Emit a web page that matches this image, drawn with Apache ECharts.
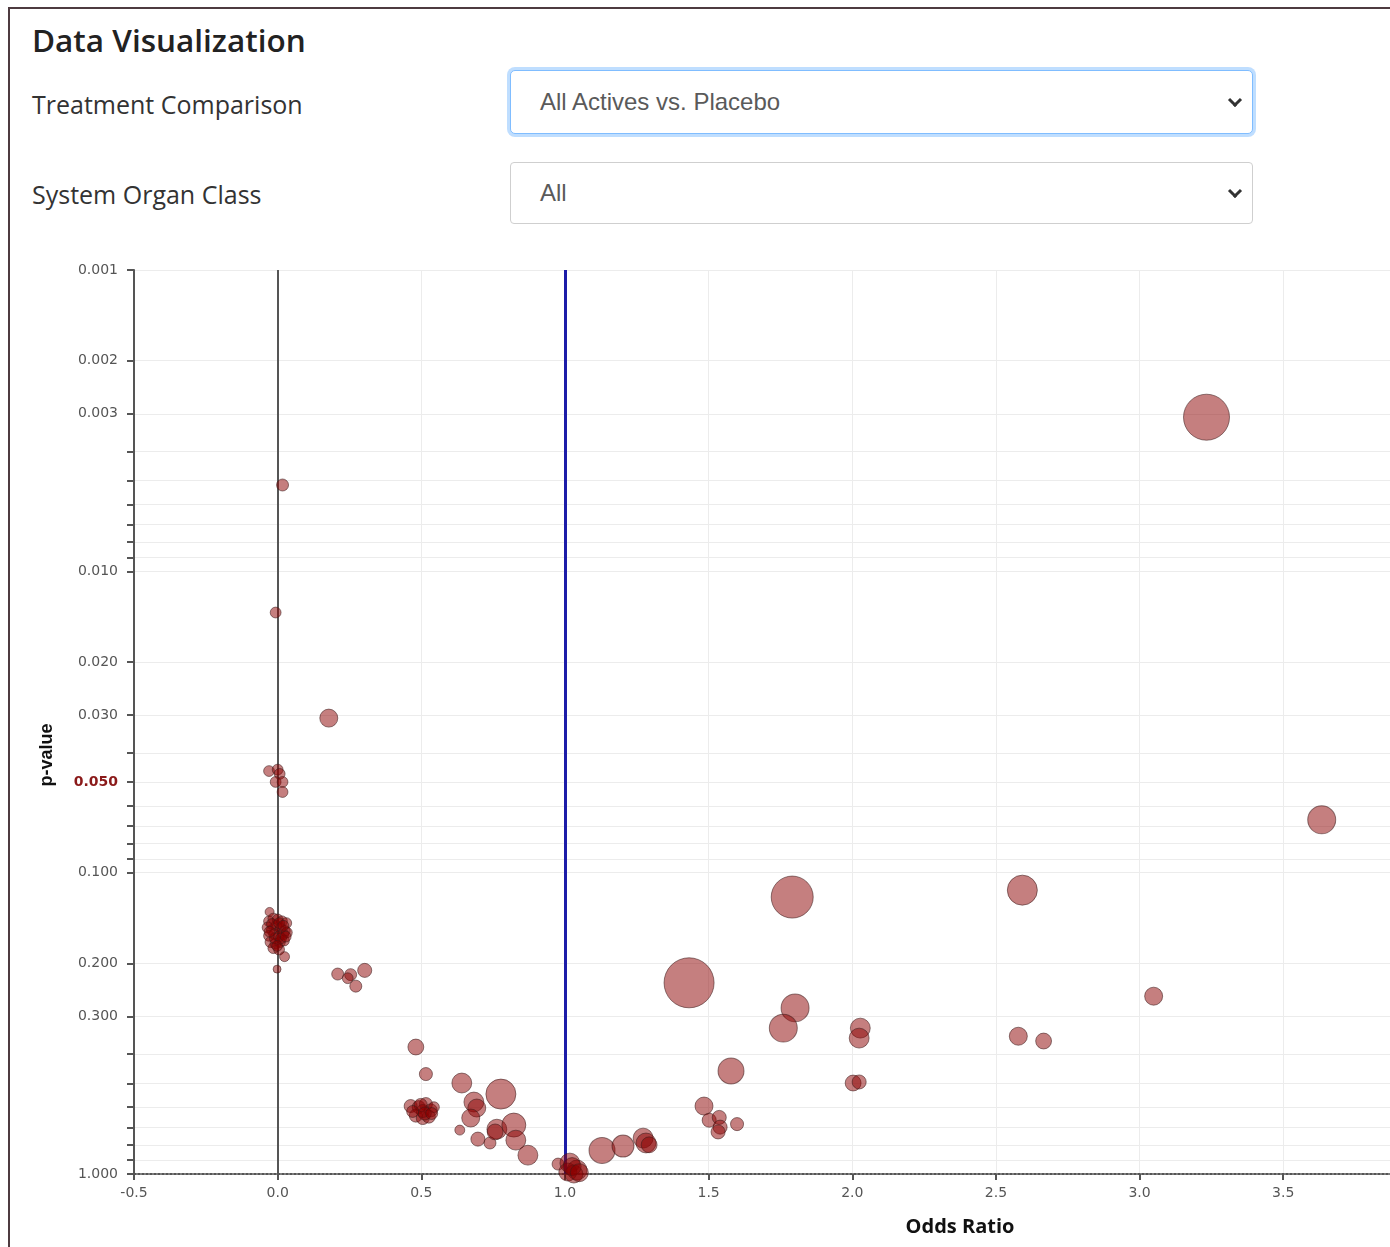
<!DOCTYPE html>
<html>
<head>
<meta charset="utf-8">
<title>Data Visualization</title>
<script src="https://cdn.jsdelivr.net/npm/echarts@6/dist/echarts.min.js"></script>
<style>
  html, body { margin: 0; padding: 0; background: #fff; overflow: hidden; width: 1390px; height: 1247px; }
  #frame { position: absolute; left: 8px; top: 7px; width: 2000px; height: 2000px;
           border-top: 2px solid #4e3b40; border-left: 2px solid #4e3b40; box-sizing: border-box; }
  .title { position: absolute; left: 32px; top: 20px; font-family: "Open Sans", sans-serif;
           font-weight: 600; font-size: 31.5px; line-height: 40px; color: #222; white-space: nowrap; }
  .lbl { position: absolute; left: 32px; font-family: "Open Sans", sans-serif; font-size: 25px;
         line-height: 32px; color: #333; white-space: nowrap; }
  .sel { position: absolute; left: 510px; width: 743px; box-sizing: border-box; background: #fff;
         font-family: "Liberation Sans", Arial, sans-serif; font-size: 24px; color: #5a5a5a;
         padding-left: 29px; white-space: nowrap; }
  .sel.focus { top: 70px; height: 64px; line-height: 62px; border: 1px solid #80bdff;
               border-radius: 5px; box-shadow: 0 0 0 3px rgba(0, 123, 255, 0.25); }
  .sel.plain { top: 162px; height: 62px; line-height: 60px; border: 1px solid #cfcfcf; border-radius: 4px; }
  .chev { position: absolute; right: 12px; top: 50%; width: 7px; height: 7px; margin-top: -7px;
          border-right: 3px solid #333; border-bottom: 3px solid #333; transform: rotate(45deg); }
  #chart { position: absolute; left: 0; top: 240px; width: 1860px; height: 1007px; }
</style>
</head>
<body>
<div id="frame"></div>
<div id="chart"></div>
<div class="title">Data Visualization</div>
<div class="lbl" style="top:88px">Treatment Comparison</div>
<div class="sel focus">All Actives vs. Placebo<span class="chev"></span></div>
<div class="lbl" style="top:178px">System Organ Class</div>
<div class="sel plain">All<span class="chev"></span></div>

<script>
// Adverse-event terms: odds ratio (active vs. placebo), p-value and number of events
const oddsRatio = [
  0.017, -0.007, -0.030, 0.000, 0.007, -0.007, 0.017, 0.017,
  -0.028, -0.030, -0.015, 0.000, 0.015, 0.030, -0.035, -0.020, -0.005, 0.010, 0.025,
  -0.030, -0.012, 0.004, 0.020, 0.032, -0.025, -0.008, 0.008, 0.022, -0.015, 0.005,
  -0.020, 0.005, 0.020, -0.010, 0.012, -0.028, 0.028, -0.002,
  0.024, -0.002,
  0.209, 0.254, 0.303, 0.244, 0.272, 0.178,
  0.481, 0.516, 0.463, 0.491, 0.516, 0.533, 0.481, 0.505, 0.526, 0.544, 0.505,
  0.498, 0.512, 0.470, 0.536,
  0.641, 0.777, 0.683, 0.693, 0.672, 0.634, 0.697, 0.739, 0.763, 0.757, 0.822, 0.829, 0.871,
  0.976, 1.017, 1.042, 1.010, 1.031, 1.025, 1.050,
  1.129, 1.202, 1.272, 1.282, 1.293,
  1.432, 1.791, 1.801, 1.760, 2.028, 2.024, 1.578, 2.003, 2.024,
  1.484, 1.502, 1.537, 1.540, 1.533, 1.599,
  3.233, 3.634, 2.592, 3.049, 2.578, 2.666
];
const pValue = [
  0.00517, 0.0137, 0.046, 0.0455, 0.047, 0.050, 0.050, 0.054,
  0.135, 0.145, 0.142, 0.143, 0.145, 0.147, 0.152, 0.155, 0.150, 0.153, 0.156,
  0.162, 0.160, 0.163, 0.160, 0.158, 0.170, 0.172, 0.170, 0.168, 0.178, 0.180,
  0.148, 0.147, 0.150, 0.165, 0.165, 0.157, 0.163, 0.175,
  0.190, 0.209,
  0.217, 0.218, 0.211, 0.224, 0.238, 0.0307,
  0.379, 0.466, 0.595, 0.600, 0.586, 0.615, 0.640, 0.652, 0.645, 0.600, 0.618,
  0.590, 0.630, 0.620, 0.630,
  0.499, 0.543, 0.577, 0.604, 0.652, 0.715, 0.766, 0.789, 0.710, 0.725, 0.688, 0.772, 0.866,
  0.927, 0.920, 0.970, 0.985, 1.000, 0.945, 0.990,
  0.835, 0.808, 0.760, 0.789, 0.800,
  0.232, 0.1205, 0.281, 0.328, 0.328, 0.354, 0.455, 0.499, 0.495,
  0.595, 0.663, 0.649, 0.699, 0.725, 0.683,
  0.00308, 0.0668, 0.1143, 0.257, 0.349, 0.362
];
const eventCount = [
  16, 13, 13, 13, 13, 13, 13, 13,
  9, 13, 13, 13, 13, 13, 13, 13, 13, 13, 13,
  13, 13, 13, 13, 13, 13, 13, 13, 13, 13, 13,
  13, 13, 13, 13, 13, 13, 13, 13,
  11, 7,
  16, 16, 22, 13, 16, 36,
  28, 19, 19, 19, 19, 19, 19, 19, 19, 13, 19,
  19, 19, 16, 16,
  44, 100, 44, 36, 36, 11, 22, 16, 44, 28, 64, 44, 44,
  16, 44, 44, 36, 36, 36, 36,
  75, 54, 44, 44, 28,
  278, 196, 87, 87, 44, 44, 75, 28, 22,
  36, 22, 22, 22, 22, 19,
  235, 87, 100, 36, 36, 28
];

// p-value axis ticks (log scale, 1-9 per decade) and the labelled subset
const pTicks = [
  0.001, 0.002, 0.003, 0.004, 0.005, 0.006, 0.007, 0.008, 0.009,
  0.01, 0.02, 0.03, 0.04, 0.05, 0.06, 0.07, 0.08, 0.09,
  0.1, 0.2, 0.3, 0.4, 0.5, 0.6, 0.7, 0.8, 0.9, 1
];
const pLabels = [0.001, 0.002, 0.003, 0.010, 0.020, 0.030, 0.050, 0.100, 0.200, 0.300, 1.000];
const significance = 0.05;
const oddsRatioTicks = { min: -0.5, max: 5.25, interval: 0.5 };

const points = oddsRatio.map((x, i) => [x, Math.log10(pValue[i]), eventCount[i]]);

const chart = echarts.init(document.getElementById('chart'), null, { renderer: 'canvas' });

const axisFont = 'DejaVu Sans, Verdana, sans-serif';

chart.setOption({
  animation: false,
  backgroundColor: 'transparent',
  grid: { left: 134, top: 30, right: 74, bottom: 73 },
  xAxis: {
    type: 'value',
    min: oddsRatioTicks.min,
    max: oddsRatioTicks.max,
    interval: oddsRatioTicks.interval,
    name: 'Odds Ratio',
    nameLocation: 'middle',
    nameGap: 43,
    nameTextStyle: { fontFamily: 'Open Sans, sans-serif', fontWeight: 'bold', fontSize: 20, color: '#111' },
    axisLine: { onZero: false, lineStyle: { color: '#555', width: 2, type: [2, 2] } },
    axisTick: { show: true, length: 6, lineStyle: { color: '#555', width: 2 } },
    axisLabel: { formatter: v => v.toFixed(1), color: '#555', fontSize: 14, fontFamily: axisFont, margin: 12 },
    splitLine: { show: true, lineStyle: { color: '#ececec', width: 1 } }
  },
  yAxis: {
    type: 'value',
    min: -3,
    max: 0,
    inverse: true,
    name: 'p-value',
    nameLocation: 'middle',
    nameRotate: 90,
    nameGap: 78,
    nameTextStyle: { fontFamily: 'Liberation Sans, Arial, sans-serif', fontWeight: 'bold', fontSize: 18,
                     color: '#111', padding: [0, 66, 0, 0] },
    axisLine: { show: true, onZero: false, lineStyle: { color: '#555', width: 2 } },
    axisTick: { show: true, length: 7, customValues: pTicks.map(Math.log10),
                lineStyle: { color: '#555', width: 2 } },
    axisLabel: {
      customValues: pLabels.map(Math.log10),
      color: '#555', fontSize: 14, fontFamily: axisFont, margin: 16,
      formatter: v => {
        const p = Math.pow(10, v);
        const s = p.toFixed(3);
        return Math.abs(p - significance) < 1e-9 ? '{sig|' + s + '}' : s;
      },
      rich: { sig: { color: '#8b1a1a', fontWeight: 'bold', fontSize: 14, fontFamily: axisFont } }
    },
    splitLine: { show: true, lineStyle: { color: '#ececec', width: 1 } }
  },
  series: [{
    type: 'scatter',
    data: points,
    symbolSize: d => 3 * Math.sqrt(d[2]),
    itemStyle: {
      color: 'rgba(139, 0, 0, 0.5)',
      borderColor: 'rgba(60, 25, 25, 0.55)',
      borderWidth: 1,
      opacity: 1
    },
    emphasis: { disabled: true },
    markLine: {
      silent: true,
      z: 1,
      symbol: ['none', 'none'],
      label: { show: false },
      data: [
        { xAxis: 0, lineStyle: { color: '#555', width: 2, type: 'solid' } },
        { xAxis: 1, lineStyle: { color: '#1c1ca8', width: 3, type: 'solid' } }
      ]
    }
  }]
});
</script>
</body>
</html>
